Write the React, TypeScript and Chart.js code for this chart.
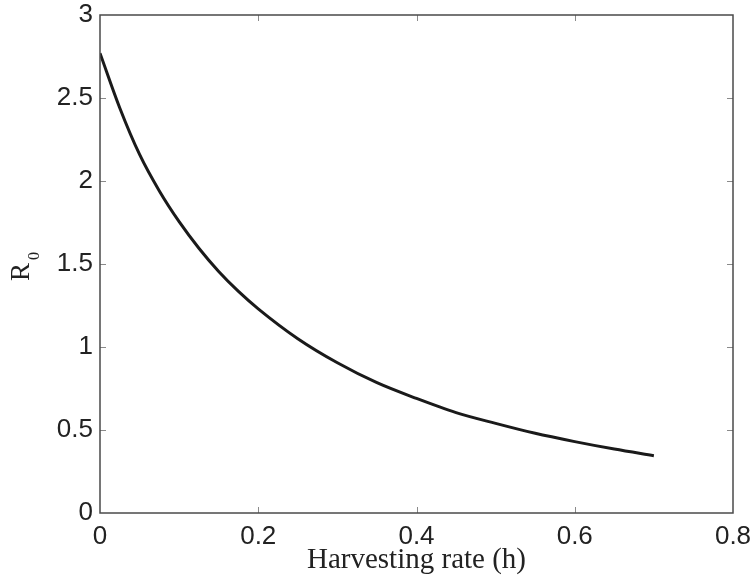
import React, { useEffect, useRef } from "react";
import { Chart, registerables } from "chart.js";

Chart.register(...registerables);

const harvestRate = [0, 0.025, 0.05, 0.075, 0.1, 0.125, 0.15, 0.175, 0.2, 0.25, 0.3, 0.35, 0.4, 0.45, 0.5, 0.55, 0.6, 0.65, 0.7];
const r0Values = [2.77, 2.44, 2.16, 1.94, 1.755, 1.595, 1.455, 1.335, 1.23, 1.05, 0.905, 0.785, 0.69, 0.605, 0.54, 0.48, 0.43, 0.385, 0.345];
const xTicks = [0, 0.2, 0.4, 0.6, 0.8];
const yTicks = [0, 0.5, 1, 1.5, 2, 2.5, 3];
const xTitle = "Harvesting rate (h)";
const yTitleMain = "R";
const yTitleSub = "0";

const framePlugin = {
  id: "matlabFrame",
  afterDraw(chart: any) {
    const { ctx, chartArea } = chart;
    const { left, right, top, bottom } = chartArea;
    const xs = chart.scales.x;
    const ys = chart.scales.y;
    ctx.save();
    ctx.strokeStyle = "#8a8a8a";
    ctx.lineWidth = 1;
    const tl = 6;
    xTicks.forEach((v) => {
      const px = Math.round(xs.getPixelForValue(v)) + 0.5;
      if (px <= left + 1 || px >= right - 1) return;
      ctx.beginPath();
      ctx.moveTo(px, bottom);
      ctx.lineTo(px, bottom - tl);
      ctx.moveTo(px, top);
      ctx.lineTo(px, top + tl);
      ctx.stroke();
    });
    yTicks.forEach((v) => {
      const py = Math.round(ys.getPixelForValue(v)) + 0.5;
      if (py <= top + 1 || py >= bottom - 1) return;
      ctx.beginPath();
      ctx.moveTo(left, py);
      ctx.lineTo(left + tl, py);
      ctx.moveTo(right, py);
      ctx.lineTo(right - tl, py);
      ctx.stroke();
    });
    ctx.strokeStyle = "#4a4a4a";
    ctx.lineWidth = 1.5;
    ctx.strokeRect(left, top, right - left, bottom - top);
    ctx.fillStyle = "#222";
    ctx.font = '29px "Liberation Serif", "Times New Roman", serif';
    ctx.textAlign = "center";
    ctx.textBaseline = "alphabetic";
    ctx.fillText(xTitle, (left + right) / 2, 568);
    ctx.translate(29, 281);
    ctx.rotate(-Math.PI / 2);
    ctx.textAlign = "left";
    ctx.font = '27px "Liberation Serif", "Times New Roman", serif';
    ctx.fillText(yTitleMain, 0, 0);
    const w = ctx.measureText(yTitleMain).width;
    ctx.font = '16px "Liberation Serif", "Times New Roman", serif';
    ctx.fillText(yTitleSub, w + 3, 10);
    ctx.restore();
  },
};

const zeroPad = (s: any) => {
  s.paddingLeft = 0;
  s.paddingRight = 0;
  s.paddingTop = 0;
  s.paddingBottom = 0;
};

export default function App() {
  const ref = useRef<HTMLCanvasElement | null>(null);
  useEffect(() => {
    if (!ref.current) return;
    const tickFont = { family: '"Liberation Sans", Helvetica, Arial, sans-serif', size: 26 };
    const chart = new Chart(ref.current, {
      type: "line",
      data: {
        datasets: [
          {
            data: harvestRate.map((h, i) => ({ x: h, y: r0Values[i] })),
            borderColor: "#1a1a1a",
            borderWidth: 3,
            pointRadius: 0,
            fill: false,
            cubicInterpolationMode: "monotone",
          },
        ],
      },
      options: {
        animation: false,
        responsive: false,
        maintainAspectRatio: false,
        layout: { padding: { left: 0, right: 23, top: 15, bottom: 0 } },
        plugins: { legend: { display: false }, tooltip: { enabled: false } },
        scales: {
          x: {
            type: "linear",
            min: 0,
            max: 0.8,
            grid: { display: false, drawTicks: false },
            border: { display: false },
            afterBuildTicks: (s: any) => {
              s.ticks = xTicks.map((v) => ({ value: v }));
            },
            afterFit: (s: any) => {
              s.height = 70;
              zeroPad(s);
            },
            ticks: {
              font: tickFont,
              color: "#222",
              padding: 8,
              maxRotation: 0,
              callback: (v: any) => String(v),
            },
          },
          y: {
            type: "linear",
            min: 0,
            max: 3,
            grid: { display: false, drawTicks: false },
            border: { display: false },
            afterBuildTicks: (s: any) => {
              s.ticks = yTicks.map((v) => ({ value: v }));
            },
            afterFit: (s: any) => {
              s.width = 100;
              zeroPad(s);
            },
            ticks: {
              font: tickFont,
              color: "#222",
              padding: 7,
              callback: (v: any) => String(v),
            },
          },
        },
      },
      plugins: [framePlugin],
    } as any);
    return () => chart.destroy();
  }, []);
  return (
    <div style={{ position: "fixed", left: 0, top: 0, width: 756, height: 583, background: "#fff" }}>
      <canvas ref={ref} width={756} height={583} style={{ width: 756, height: 583 }} />
    </div>
  );
}
